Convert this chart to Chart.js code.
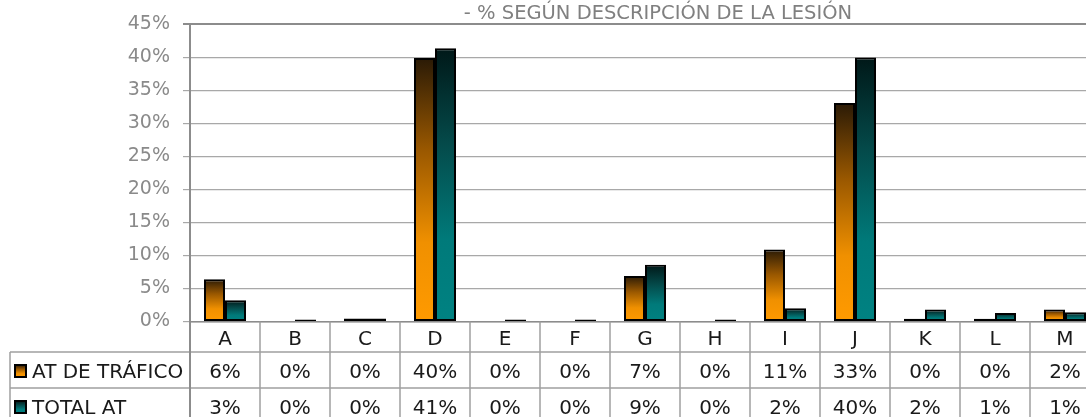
<!DOCTYPE html>
<html>
<head>
<meta charset="utf-8">
<script src="https://cdn.jsdelivr.net/npm/chart.js@4"></script>
<style>
  html, body { margin: 0; padding: 0; background: #fff; overflow: hidden; }
  #wrap { position: absolute; left: 0; top: 0; }
</style>
</head>
<body>
<div id="wrap"><canvas id="chart" width="1110" height="417"></canvas></div>
<script>
// datos (en %)
const categorias = ['A','B','C','D','E','F','G','H','I','J','K','L','M'];
const atTrafico = [6.4, 0, 0.45, 39.9, 0, 0, 6.9, 0, 10.9, 33.1, 0.4, 0.4, 1.8];
const totalAT   = [3.2, 0.3, 0.45, 41.4, 0.3, 0.3, 8.6, 0.3, 2.0, 40.0, 1.8, 1.3, 1.4];
const serieNombres = ['AT DE TRÁFICO', 'TOTAL AT'];
const yTicks = [0, 5, 10, 15, 20, 25, 30, 35, 40, 45];
const titulo = '- % SEGÚN DESCRIPCIÓN DE LA LESIÓN';

const FONT = '"DejaVu Sans", sans-serif';
const naranja = [[0, '#ff9a00'], [0.3, '#f09000'], [0.65, '#9a5800'], [1, '#2a1a06']];
const verde   = [[0, '#008282'], [0.3, '#007a7a'], [0.65, '#044a4a'], [1, '#001818']];

function degradado(c, stops) {
  const chart = c.chart;
  if (!chart.chartArea || c.type !== 'data') return stops[0][1];
  const y = chart.scales.y;
  const base = y.getPixelForValue(0);
  let top = y.getPixelForValue(c.raw);
  if (base - top < 1) top = base - 1;
  const g = chart.ctx.createLinearGradient(0, base, 0, top);
  stops.forEach(s => g.addColorStop(s[0], s[1]));
  return g;
}

const tablaPlugin = {
  id: 'tabla',
  afterDraw(chart) {
    const ctx = chart.ctx;
    const x = chart.scales.x;
    const area = chart.chartArea;
    const W = chart.width, H = chart.height;
    const step = x.getPixelForValue(1) - x.getPixelForValue(0);
    const y0 = area.bottom, y1 = 352, y2 = 388;
    ctx.save();
    // lineas de la tabla
    ctx.strokeStyle = '#a0a0a0';
    ctx.lineWidth = 1.5;
    ctx.beginPath();
    ctx.moveTo(10, y1); ctx.lineTo(W, y1);
    ctx.moveTo(10, y2); ctx.lineTo(W, y2);
    ctx.moveTo(10, y1); ctx.lineTo(10, H);
    for (let i = 0; i < categorias.length; i++) {
      const bx = x.getPixelForValue(i) + step / 2;
      ctx.moveTo(bx, y0); ctx.lineTo(bx, H);
    }
    ctx.stroke();
    ctx.strokeStyle = '#8c8c8c';
    ctx.lineWidth = 2;
    ctx.beginPath();
    ctx.moveTo(area.left, y0); ctx.lineTo(area.left, H);
    ctx.stroke();

    ctx.font = '20px ' + FONT;
    ctx.fillStyle = '#1a1a1a';
    ctx.textAlign = 'center';
    ctx.textBaseline = 'alphabetic';
    categorias.forEach((c, i) => {
      const cx = x.getPixelForValue(i);
      ctx.fillText(c, cx, 345);
      ctx.fillText(Math.round(atTrafico[i]) + '%', cx, 378);
      ctx.fillText(Math.round(totalAT[i]) + '%', cx, 414);
    });

    // leyenda en la tabla
    [[naranja, 365], [verde, 401]].forEach(k => {
      const g = ctx.createLinearGradient(0, k[1] + 12, 0, k[1]);
      k[0].forEach(s => g.addColorStop(s[0], s[1]));
      ctx.fillStyle = g;
      ctx.fillRect(15, k[1], 11, 12);
      ctx.strokeStyle = '#000';
      ctx.lineWidth = 2;
      ctx.strokeRect(15, k[1], 11, 12);
    });
    ctx.fillStyle = '#1a1a1a';
    ctx.textAlign = 'left';
    ctx.fillText(serieNombres[0], 32, 378);
    ctx.fillText(serieNombres[1], 32, 414);

    // titulo
    ctx.font = '19.5px ' + FONT;
    ctx.fillStyle = '#808080';
    ctx.textAlign = 'center';
    ctx.fillText(titulo, 658, 19);
    ctx.restore();
  }
};

const ctx = document.getElementById('chart');
new Chart(ctx, {
  type: 'bar',
  data: {
    labels: categorias,
    datasets: [{
      label: serieNombres[0],
      data: atTrafico,
      backgroundColor: c => degradado(c, naranja),
      borderColor: '#000',
      borderWidth: 2,
      borderSkipped: false
    }, {
      label: serieNombres[1],
      data: totalAT,
      backgroundColor: c => degradado(c, verde),
      borderColor: '#000',
      borderWidth: 2,
      borderSkipped: false
    }]
  },
  options: {
    responsive: false,
    animation: false,
    devicePixelRatio: 1,
    layout: { padding: { top: 22, right: 10, left: 0, bottom: 0 } },
    datasets: { bar: { categoryPercentage: 0.6, barPercentage: 1.0 } },
    plugins: {
      legend: { display: false },
      title: { display: false },
      tooltip: { enabled: false }
    },
    scales: {
      x: {
        grid: { display: false },
        border: { display: true, color: '#8c8c8c', width: 1.5 },
        ticks: { display: false },
        afterFit: s => { s.height = 417 - 22 - 299.5; }
      },
      y: {
        min: 0,
        max: 45,
        afterBuildTicks: s => { s.ticks = yTicks.map(v => ({ value: v })); },
        ticks: {
          color: '#8a8a8a',
          font: { family: FONT, size: 19 },
          padding: 13,
          callback: v => v + '%'
        },
        grid: {
          color: c => c.tick && c.tick.value === 45 ? '#8c8c8c' : '#a8a8a8',
          lineWidth: c => c.tick && c.tick.value === 45 ? 2 : 1.2,
          tickLength: 7,
          drawTicks: true
        },
        border: { display: true, color: '#8c8c8c', width: 2 },
        afterFit: s => { s.width = 190; }
      }
    }
  },
  plugins: [tablaPlugin]
});
</script>
</body>
</html>
